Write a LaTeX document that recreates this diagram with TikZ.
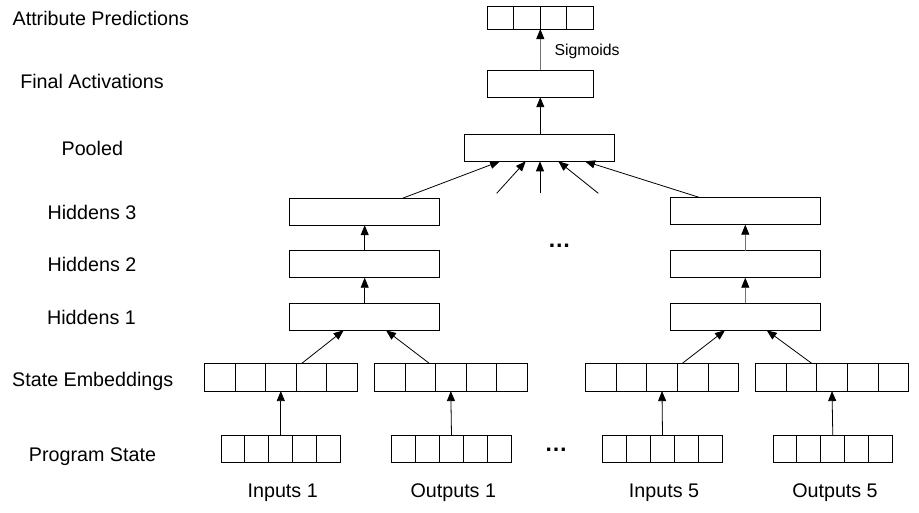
\documentclass[tikz,border=0pt]{standalone}
\usepackage{fontspec}
\setmainfont{Liberation Sans}
\usetikzlibrary{arrows.meta,calc}
\definecolor{shaftgray}{gray}{0.45}
\tikzset{
  box/.style={draw, line width=0.8pt, inner sep=0pt, outer sep=0pt, minimum width=150pt, minimum height=27pt},
  cellbox/.style={draw, line width=0.8pt, inner sep=0pt, outer sep=0pt, minimum height=27pt},
  lab/.style={anchor=base, inner sep=0pt, font=\fontsize{19.7}{22}\selectfont},
  smalllab/.style={anchor=base, inner sep=0pt, font=\fontsize{15.8}{18}\selectfont},
  arr/.style={line width=0.8pt, -{Triangle[length=10pt,width=8pt]}},
  grayarr/.style={arr, draw=shaftgray, -{Triangle[length=10pt,width=8pt,color=black]}},
  dots/.style={anchor=base, inner sep=0pt, font=\fontsize{23}{26}\selectfont\bfseries}
}
\newcommand{\celldiv}[2]{%
  \foreach \i in {1,...,#2} {%
    \pgfmathsetmacro{\fr}{\i/(#2+1)}
    \draw[line width=0.8pt] ($(#1.south west)!\fr!(#1.south east)$) -- ($(#1.north west)!\fr!(#1.north east)$);
  }}
\begin{document}
\begin{tikzpicture}[x=1pt,y=-1pt]
\useasboundingbox (0,0) rectangle (919,512);

% left labels
\node[lab] (lAP) at (100.8,25) {Attribute Predictions};
\node[lab] (lFA) at (92,88.3) {Final Activations};
\node[lab] (lPO) at (92.3,155.7) {Pooled};
\node[lab] (lH3) at (92,219) {Hiddens 3};
\node[lab] (lH2) at (92,271.7) {Hiddens 2};
\node[lab] (lH1) at (91.5,324) {Hiddens 1};
\node[lab] (lSE) at (92.7,386.7) {State Embeddings};
\node[lab] (lPS) at (92.5,461) {Program State};

% top
\node[cellbox, minimum width=106pt, minimum height=23pt] (ap) at (540.3,17.5) {};
\celldiv{ap}{3}
\node[box, minimum width=106pt] (fa) at (540.3,83.7) {};
\node[box] (pool) at (539.3,147.8) {};

% hiddens left
\node[box] (h3L) at (364.7,211.7) {};
\node[box] (h2L) at (364.7,264.2) {};
\node[box] (h1L) at (364.7,316.8) {};
% hiddens right
\node[box] (h3R) at (745.3,211.2) {};
\node[box] (h2R) at (745.3,264.2) {};
\node[box] (h1R) at (745.3,316.8) {};

% state embeddings
\node[cellbox, minimum width=153pt, minimum height=27.7pt] (se1) at (280.8,377.2) {};
\node[cellbox, minimum width=153pt, minimum height=27.7pt] (se2) at (450.8,377.2) {};
\node[cellbox, minimum width=153pt, minimum height=27.7pt] (se3) at (662,377.2) {};
\node[cellbox, minimum width=153pt, minimum height=27.7pt] (se4) at (832,377.2) {};
\celldiv{se1}{4}\celldiv{se2}{4}\celldiv{se3}{4}\celldiv{se4}{4}

% program state
\node[cellbox, minimum width=119.7pt] (ps1) at (280.8,449.2) {};
\node[cellbox, minimum width=119.7pt] (ps2) at (451.5,449.2) {};
\node[cellbox, minimum width=119.7pt] (ps3) at (662.5,448.5) {};
\node[cellbox, minimum width=119.7pt] (ps4) at (832.8,448.5) {};
\celldiv{ps1}{4}\celldiv{ps2}{4}\celldiv{ps3}{4}\celldiv{ps4}{4}

% bottom labels
\node[lab] (in1) at (282.7,497) {Inputs 1};
\node[lab] (out1) at (453.3,497) {Outputs 1};
\node[lab] (in5) at (664,497.3) {Inputs 5};
\node[lab] (out5) at (835,497.3) {Outputs 5};

% sigmoid label
\node[smalllab] (sig) at (587,55.7) {Sigmoids};

% dots
\node[dots] (dots1) at (559.3,247.5) {…};
\node[dots] (dots2) at (556,451.5) {…};

% arrows
\draw[arr] (ps1.north) -- (se1.south);
\draw[arr] (ps2.north) -- (se2.south);
\draw[arr] (ps3.north) -- (se3.south);
\draw[arr] (ps4.north) -- (se4.south);

\draw[arr] ($(se1.north)+(21,0)$) -- ($(h1L.south)+(-21,0)$);
\draw[arr] ($(se2.north)+(-21.5,0)$) -- ($(h1L.south)+(21.3,0)$);
\draw[arr] ($(se3.north)+(20.3,0)$) -- ($(h1R.south)+(-20.3,0)$);
\draw[arr] ($(se4.north)+(-20.3,0)$) -- ($(h1R.south)+(21.4,0)$);

\draw[arr] (h1L.north) -- (h2L.south);
\draw[arr] (h2L.north) -- (h3L.south);
\draw[grayarr] (h1R.north) -- (h2R.south);
\draw[grayarr] (h2R.north) -- (h3R.south);

\draw[arr] ($(h3L.north)+(38,0)$) -- ($(pool.south)+(-39.3,0)$);
\draw[arr] ($(h3R.north)+(-45,0)$) -- ($(pool.south)+(45.7,0)$);

\coordinate (s1) at (496.7,193.3);
\coordinate (s2) at (540,193.3);
\coordinate (s3) at (598.3,193.3);
\draw[arr] (s1) -- ($(pool.south)+(-13.6,0)$);
\draw[arr] (s2) -- (s2 |- pool.south);
\draw[arr] (s3) -- ($(pool.south)+(19,0)$);

\draw[arr] (pool.north -| fa.south) -- (fa.south);
\draw[grayarr] (fa.north) -- (ap.south);
\end{tikzpicture}
\end{document}
